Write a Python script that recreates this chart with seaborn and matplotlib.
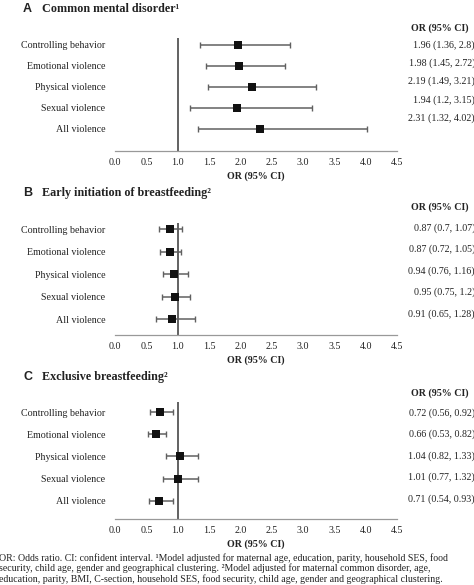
import matplotlib
matplotlib.use("Agg")
import matplotlib.pyplot as plt
import numpy as np
import pandas as pd
import seaborn as sns

# ---- data -----------------------------------------------------------
EXPOSURES = ["Controlling behavior", "Emotional violence", "Physical violence",
             "Sexual violence", "All violence"]

CMD_OR = [1.96, 1.98, 2.19, 1.94, 2.31]
CMD_LO = [1.36, 1.45, 1.49, 1.20, 1.32]
CMD_HI = [2.80, 2.72, 3.21, 3.15, 4.02]
CMD_TXT = ["1.96 (1.36, 2.8)", "1.98 (1.45, 2.72)", "2.19 (1.49, 3.21)",
           "1.94 (1.2, 3.15)", "2.31 (1.32, 4.02)"]

EIB_OR = [0.87, 0.87, 0.94, 0.95, 0.91]
EIB_LO = [0.70, 0.72, 0.76, 0.75, 0.65]
EIB_HI = [1.07, 1.05, 1.16, 1.20, 1.28]
EIB_TXT = ["0.87 (0.7, 1.07)", "0.87 (0.72, 1.05)", "0.94 (0.76, 1.16)",
           "0.95 (0.75, 1.2)", "0.91 (0.65, 1.28)"]

EBF_OR = [0.72, 0.66, 1.04, 1.01, 0.71]
EBF_LO = [0.56, 0.53, 0.82, 0.77, 0.54]
EBF_HI = [0.92, 0.82, 1.33, 1.32, 0.93]
EBF_TXT = ["0.72 (0.56, 0.92)", "0.66 (0.53, 0.82)", "1.04 (0.82, 1.33)",
           "1.01 (0.77, 1.32)", "0.71 (0.54, 0.93)"]

X_TICKS = [0.0, 0.5, 1.0, 1.5, 2.0, 2.5, 3.0, 3.5, 4.0, 4.5]

FOOTNOTE = ("OR: Odds ratio. CI: confident interval. \u00b9Model adjusted for maternal age, education, parity, household SES, food\n"
            "security, child age, gender and geographical clustering. \u00b2Model adjusted for maternal common disorder, age,\n"
            "education, parity, BMI, C-section, household SES, food security, child age, gender and geographical clustering.")

# ---- style ----------------------------------------------------------
sns.set_theme(style="white")
plt.rcParams["font.family"] = ["Liberation Serif", "DejaVu Serif"]
TXT = "#222222"
FS = 7.2
W, H = 474, 585


def fx(px):
    return px / W


def fy(py):
    return 1 - py / H


def panel(fig, letter, title, ors, los, his, txts, top, bottom, ylim,
          title_y, head_y, val_y0, val_step):
    ax = fig.add_axes([fx(115), fy(bottom), 282 / W, (bottom - top) / H])
    df = pd.DataFrame({"exposure": EXPOSURES, "or": ors, "lo": los, "hi": his})
    df["row"] = np.arange(len(df))
    ax.errorbar(df["or"], df["row"],
                xerr=[df["or"] - df["lo"], df["hi"] - df["or"]],
                fmt="none", ecolor="#606060", elinewidth=1.1,
                capsize=2.2, capthick=1.0, zorder=2)
    sns.scatterplot(data=df, x="or", y="row", marker="s", s=30,
                    color="#111111", edgecolor="#111111", linewidth=0,
                    ax=ax, zorder=3, legend=False)
    ax.axvline(1.0, color="#555555", lw=1.3, zorder=1)

    ax.set_xlim(0, 4.5)
    ax.set_ylim(*ylim)
    ax.set_xticks(X_TICKS)
    ax.set_xticklabels([f"{t:.1f}" for t in X_TICKS], fontsize=FS, color=TXT)
    ax.set_yticks(df["row"])
    ax.set_yticklabels(df["exposure"], fontsize=FS, color=TXT)
    ax.tick_params(axis="y", length=0, pad=7)
    ax.tick_params(axis="x", direction="in", length=3, width=0.8,
                   color="#999999", pad=5)
    for s in ["left", "top", "right"]:
        ax.spines[s].set_visible(False)
    ax.spines["bottom"].set_color("#999999")
    ax.spines["bottom"].set_linewidth(0.9)
    ax.set_xlabel("OR (95% CI)", fontsize=FS, fontweight="bold",
                  color=TXT, labelpad=3)
    ax.set_ylabel("")

    fig.text(fx(23), fy(title_y), letter, fontsize=9, fontweight="bold",
             family="Liberation Sans", color=TXT, va="center")
    fig.text(fx(42), fy(title_y), title, fontsize=8.7, fontweight="bold",
             color=TXT, va="center")
    fig.text(fx(440), fy(head_y), "OR (95% CI)", fontsize=FS,
             fontweight="bold", color=TXT, ha="center", va="center")
    for i, t in enumerate(txts):
        fig.text(fx(475), fy(val_y0 + i * val_step), t, fontsize=FS,
                 color=TXT, ha="right", va="center")


fig = plt.figure(figsize=(W / 100, H / 100), dpi=100)

panel(fig, "A", "Common mental disorder\u00b9", CMD_OR, CMD_LO, CMD_HI, CMD_TXT,
      top=38, bottom=151, ylim=(5.05, -0.33),
      title_y=9, head_y=28, val_y0=45, val_step=18.3)
panel(fig, "B", "Early initiation of breastfeeding\u00b2", EIB_OR, EIB_LO, EIB_HI,
      EIB_TXT, top=223, bottom=335, ylim=(4.71, -0.27),
      title_y=193, head_y=207, val_y0=228, val_step=21.5)
panel(fig, "C", "Exclusive breastfeeding\u00b2", EBF_OR, EBF_LO, EBF_HI, EBF_TXT,
      top=402, bottom=519, ylim=(4.81, -0.45),
      title_y=377, head_y=393, val_y0=413, val_step=21.5)

fig.text(fx(-1), fy(553), FOOTNOTE, fontsize=7.1, color=TXT,
         ha="left", va="top", linespacing=1.1)

fig.savefig("out.png", dpi=100)
